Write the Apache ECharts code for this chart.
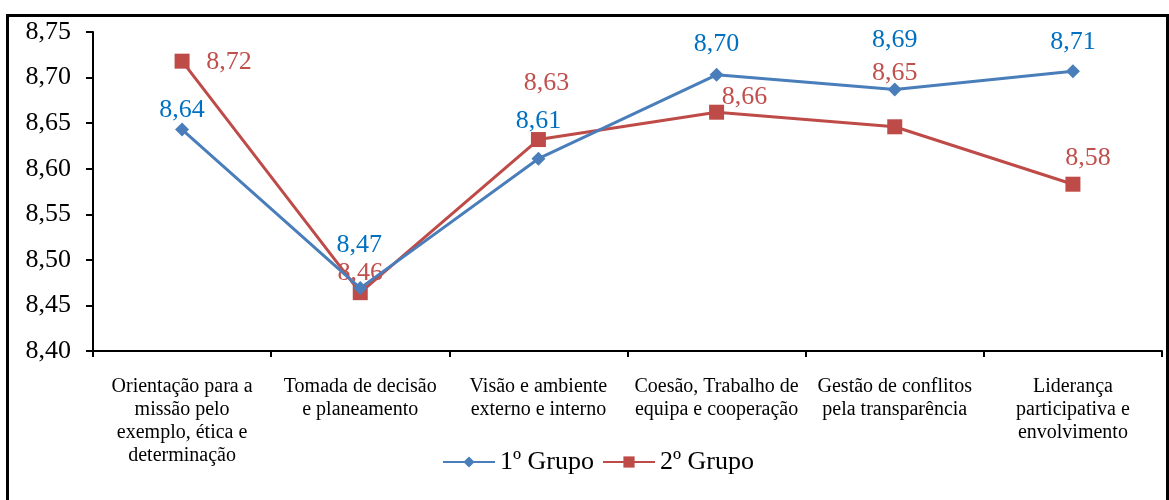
<!DOCTYPE html>
<html>
<head>
<meta charset="utf-8">
<script src="https://cdn.jsdelivr.net/npm/echarts@6/dist/echarts.min.js"></script>
<style>
  html, body { margin: 0; padding: 0; background: #fff; }
  #frame {
    position: absolute; left: 6px; top: 14px; width: 1157px; height: 520px;
    border: 3px solid #000; box-sizing: content-box;
  }
  #chart { position: absolute; left: 0; top: 0; width: 1169px; height: 500px; }
</style>
</head>
<body>
<div id="frame"></div>
<div id="chart"></div>
<script>
// dados
const categories = [
    'Orientação para a\nmissão pelo\nexemplo, ética e\ndeterminação',
    'Tomada de decisão\ne planeamento',
    'Visão e ambiente\nexterno e interno',
    'Coesão, Trabalho de\nequipa e cooperação',
    'Gestão de conflitos\npela transparência',
    'Liderança\nparticipativa e\nenvolvimento'
];
const grupo1 = [8.643, 8.469, 8.611, 8.703, 8.687, 8.707];
const grupo2 = [8.718, 8.464, 8.632, 8.662, 8.646, 8.583];
const yTicks = [8.40, 8.45, 8.50, 8.55, 8.60, 8.65, 8.70, 8.75];

// deslocamento dos rótulos (posição apenas)
const off1 = [[0, -19], [-1, -43], [0, -38], [0, -31], [0, -49], [0, -29]];
const off2 = [[47, 1], [0, -19], [8, -56], [28, -15], [0, -54], [15, -26]];

const fmt = v => v.toFixed(2).replace('.', ',');
const serif = '"Liberation Serif", "Times New Roman", serif';

function buildData(values, offsets, color) {
    return values.map((v, i) => ({
        value: v,
        label: {
            show: true,
            position: 'inside',
            offset: offsets[i],
            formatter: p => fmt(p.value),
            color: color,
            fontSize: 26,
            fontFamily: serif
        }
    }));
}

const chart = echarts.init(document.getElementById('chart'));

const options = {
    animation: false,
    grid: { left: 93, right: 7, top: 32, bottom: 149 },
    legend: {
        bottom: 20,
        left: 437,
        itemWidth: 52,
        itemHeight: 14,
        itemGap: 8,
        textStyle: { fontSize: 26, fontFamily: serif, color: '#000' },
        data: ['1º Grupo', '2º Grupo']
    },
    xAxis: {
        type: 'category',
        boundaryGap: true,
        data: categories,
        axisLine: { lineStyle: { color: '#000', width: 2 } },
        axisTick: { show: true, length: 6, lineStyle: { color: '#000', width: 2 } },
        axisLabel: {
            interval: 0,
            margin: 24,
            color: '#000',
            fontSize: 20,
            lineHeight: 23,
            fontFamily: serif
        }
    },
    yAxis: {
        type: 'value',
        min: yTicks[0],
        max: yTicks[yTicks.length - 1],
        interval: 0.05,
        splitLine: { show: false },
        axisLine: { show: true, lineStyle: { color: '#000', width: 2 } },
        axisTick: { show: true, length: 7, lineStyle: { color: '#000', width: 2 } },
        axisLabel: {
            margin: 22,
            color: '#000',
            fontSize: 26,
            fontFamily: serif,
            formatter: v => fmt(v)
        }
    },
    series: [
        {
            name: '1º Grupo',
            type: 'line',
            symbol: 'diamond',
            symbolSize: 14,
            lineStyle: { color: '#4A7EBB', width: 3 },
            itemStyle: { color: '#4A7EBB' },
            data: buildData(grupo1, off1, '#0070C0'),
            z: 3
        },
        {
            name: '2º Grupo',
            type: 'line',
            symbol: 'rect',
            symbolSize: 15,
            lineStyle: { color: '#BE4B48', width: 3 },
            itemStyle: { color: '#BE4B48' },
            data: buildData(grupo2, off2, '#C0504D'),
            z: 2
        }
    ]
};

chart.setOption(options);
</script>
</body>
</html>
